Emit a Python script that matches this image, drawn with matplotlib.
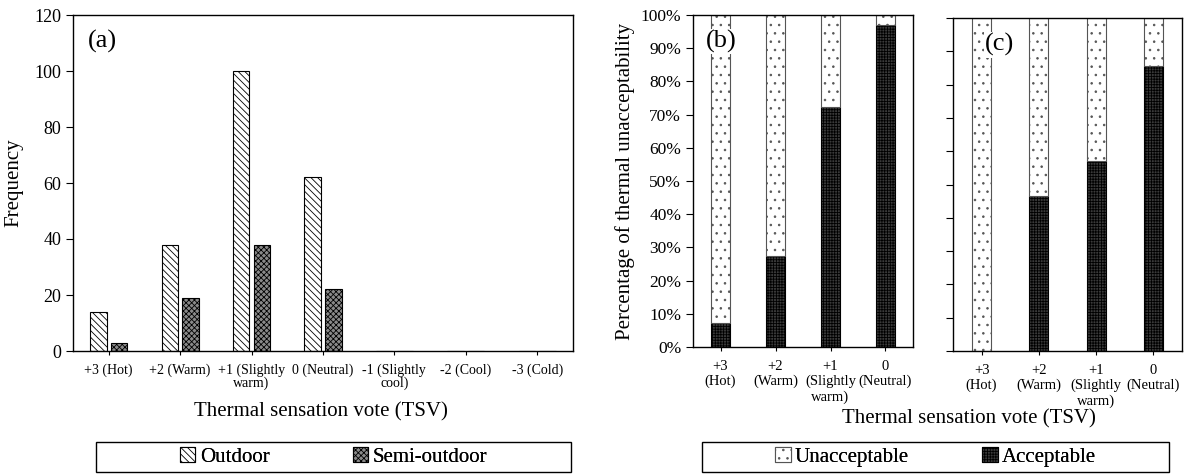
import numpy as np
import matplotlib
matplotlib.use('Agg')
import matplotlib.pyplot as plt
from matplotlib.patches import Patch, Rectangle
from matplotlib.ticker import PercentFormatter

# 데이터
tsv_all = ['+3 (Hot)', '+2 (Warm)', '+1 (Slightly\nwarm)', '0 (Neutral)',
           '-1 (Slightly\ncool)', '-2 (Cool)', '-3 (Cold)']
outdoor = [14, 38, 100, 62, 0, 0, 0]
semi_outdoor = [3, 19, 38, 22, 0, 0, 0]

tsv_short = ['+3\n(Hot)', '+2\n(Warm)', '+1\n(Slightly\nwarm)', '0\n(Neutral)']
accept_b = [7.2, 27.3, 72.3, 97.0]
accept_c = [0.0, 46.5, 57.0, 85.5]

plt.rcParams['font.family'] = ['Liberation Serif', 'DejaVu Serif']
plt.rcParams['hatch.linewidth'] = 0.6
plt.rcParams['axes.linewidth'] = 1.0

W, H = 1187, 474
fig = plt.figure(figsize=(W / 100, H / 100), dpi=100)


def px_axes(left, right, top, bottom):
    return fig.add_axes([left / W, 1 - bottom / H, (right - left) / W, (bottom - top) / H])


out_style = dict(facecolor='white', edgecolor='black', hatch='\\\\\\\\\\', linewidth=0.8)
semi_style = dict(facecolor='#8a8a8a', edgecolor='black', hatch='xxxxxx', linewidth=0.8)
unacc_style = dict(facecolor='white', edgecolor='#555555', hatch='..', linewidth=0.8)
acc_style = dict(facecolor='#3a3a3a', edgecolor='black', hatch='++++++', linewidth=0.8)

# (a) 빈도
ax1 = px_axes(73, 573, 15, 351)
x = np.arange(len(tsv_all))
bw = 0.23
ax1.bar(x - 0.145, outdoor, bw, **out_style)
ax1.bar(x + 0.145, semi_outdoor, bw, **semi_style)
ax1.set_xlim(-0.5, len(tsv_all) - 0.5)
ax1.set_ylim(0, 120)
ax1.set_yticks(range(0, 121, 20))
ax1.set_xticks(x)
ax1.set_xticklabels(tsv_all, fontsize=10, linespacing=1.0)
ax1.tick_params(axis='y', labelsize=13, length=5, direction='out')
ax1.tick_params(axis='x', length=3, direction='out', pad=6)
ax1.set_ylabel('Frequency', fontsize=15, labelpad=8)
ax1.text(0.03, 0.92, '(a)', transform=ax1.transAxes, fontsize=19, va='center')

fig.text(321 / W, 1 - 412 / H, 'Thermal sensation vote (TSV)', fontsize=15,
         ha='center', va='center')


# (b), (c) 수용도
def accept_panel(ax, acc, label, label_x, show_labels):
    xs = np.arange(len(tsv_short))
    acc = np.array(acc) / 100
    ax.bar(xs, acc, 0.33, **acc_style)
    ax.bar(xs, 1 - acc, 0.33, bottom=acc, **unacc_style)
    ax.set_xlim(-0.5, len(tsv_short) - 0.5)
    ax.set_ylim(0, 1)
    ax.set_yticks(np.arange(0, 1.01, 0.1))
    ax.set_xticks(xs)
    ax.set_xticklabels(tsv_short, fontsize=10.5, linespacing=1.2)
    ax.tick_params(axis='x', length=3, direction='out', pad=6)
    ax.tick_params(axis='y', labelsize=12.5, length=5, direction='out')
    if show_labels:
        ax.yaxis.set_major_formatter(PercentFormatter(1.0, decimals=0))
    else:
        ax.set_yticklabels([])
    ax.text(label_x, 0.92, label, transform=ax.transAxes, fontsize=19, va='center',
            bbox=dict(facecolor='white', edgecolor='none', pad=1.0))


ax2 = px_axes(693, 913, 15, 347)
accept_panel(ax2, accept_b, '(b)', 0.06, True)
ax2.set_ylabel('Percentage of thermal unacceptability', fontsize=15, labelpad=4)

ax3 = px_axes(953, 1182, 18, 351)
accept_panel(ax3, accept_c, '(c)', 0.14, False)

fig.text(969 / W, 1 - 419 / H, 'Thermal sensation vote (TSV)', fontsize=15,
         ha='center', va='center')


# 범례 (테두리는 사각형으로 따로)
def boxed_legend(handles, labels, left, right, top, bottom, colspace):
    fig.add_artist(Rectangle((left / W, 1 - bottom / H), (right - left) / W,
                             (bottom - top) / H, transform=fig.transFigure,
                             facecolor='none', edgecolor='black', linewidth=1.0))
    leg = fig.legend(handles, labels, ncol=2, loc='center',
                     bbox_to_anchor=((left + right) / 2 / W, 1 - (top + bottom) / 2 / H),
                     fontsize=15, frameon=False, handlelength=0.75, handleheight=0.75,
                     handletextpad=0.2, columnspacing=colspace, borderpad=0)
    fig.add_artist(leg)


boxed_legend([Patch(**out_style), Patch(**semi_style)], ['Outdoor', 'Semi-outdoor'],
             96, 571, 442, 472, 4.0)
boxed_legend([Patch(**unacc_style), Patch(**acc_style)], ['Unacceptable', 'Acceptable'],
             702, 1169, 442, 472, 3.5)

fig.savefig('out.png', dpi=100)
